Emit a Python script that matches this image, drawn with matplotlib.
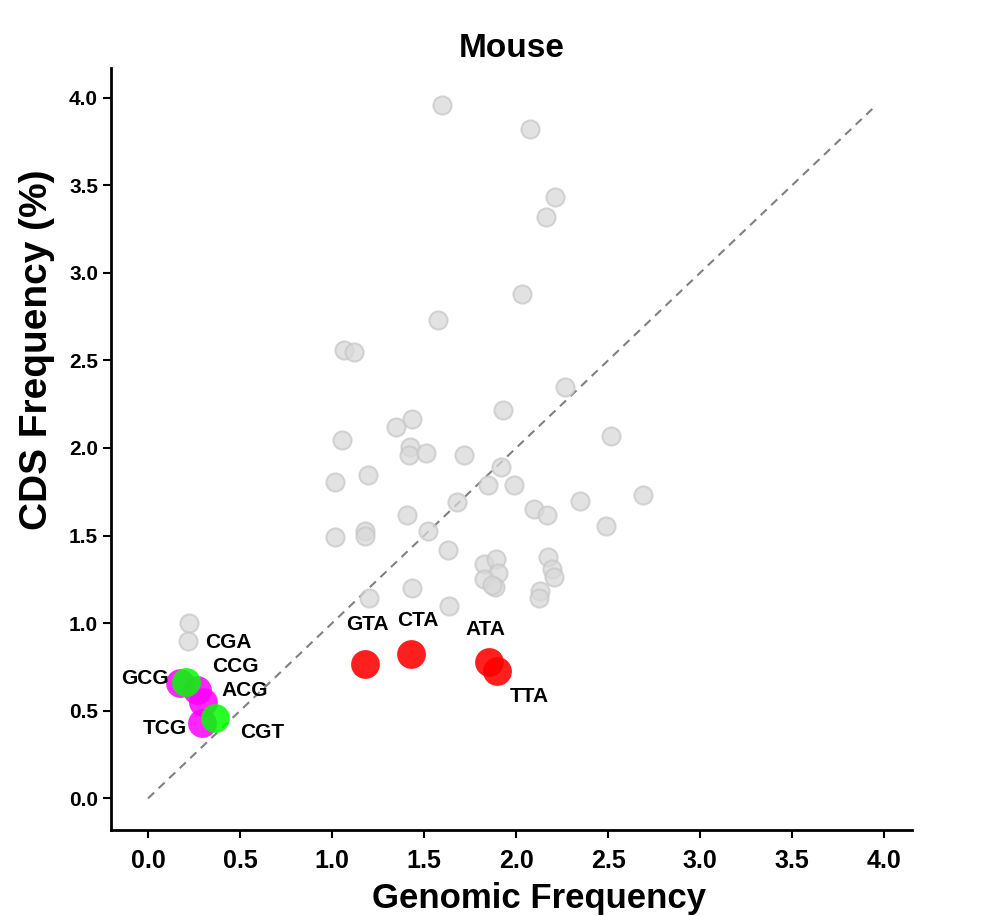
import matplotlib
matplotlib.use("Agg")
import matplotlib.pyplot as plt

# gray points: other codons (genomic %, CDS %)
gray_x = [1.596, 2.074, 2.209, 2.16, 2.03, 1.574, 1.064, 1.118, 2.263, 1.927,
          1.433, 1.346, 1.053, 2.518, 1.422, 1.417, 1.509, 1.715, 1.916, 1.194,
          1.015, 1.845, 1.986, 1.677, 2.687, 2.345, 2.095, 2.166, 1.406, 2.486,
          1.015, 1.178, 1.178, 1.52, 1.628, 1.824, 1.889, 1.90, 1.823, 1.883,
          1.87, 2.171, 2.193, 2.204, 2.128, 2.122, 1.433, 1.2, 1.634, 0.223, 0.217]
gray_y = [3.96, 3.82, 3.435, 3.32, 2.876, 2.73, 2.56, 2.545, 2.35, 2.214,
          2.168, 2.117, 2.048, 2.066, 2.003, 1.957, 1.974, 1.957, 1.889, 1.843,
          1.803, 1.786, 1.786, 1.689, 1.729, 1.695, 1.649, 1.615, 1.615, 1.552,
          1.489, 1.524, 1.495, 1.524, 1.415, 1.335, 1.369, 1.284, 1.25, 1.204,
          1.22, 1.375, 1.307, 1.261, 1.181, 1.141, 1.198, 1.141, 1.10, 0.999, 0.90]

# xCG codons (magenta)
mag_x = [0.174, 0.266, 0.30, 0.293]
mag_y = [0.656, 0.616, 0.548, 0.428]
# CGx codons (green)
grn_x = [0.206, 0.364]
grn_y = [0.662, 0.456]
# xTA codons (red)
red_x = [1.178, 1.427, 1.851, 1.894]
red_y = [0.765, 0.822, 0.776, 0.725]

labels = ["GTA", "CTA", "ATA", "TTA", "CGA", "CCG", "GCG", "ACG", "TCG", "CGT"]
label_x = [1.19, 1.465, 1.835, 2.07, 0.434, 0.472, -0.016, 0.526, 0.092, 0.62]
label_y = [0.99, 1.016, 0.964, 0.58, 0.89, 0.75, 0.685, 0.616, 0.40, 0.377]

ticks = [0.0, 0.5, 1.0, 1.5, 2.0, 2.5, 3.0, 3.5, 4.0]

fam = ["Liberation Sans", "DejaVu Sans"]

fig = plt.figure(figsize=(10.02, 9.16), dpi=100)
ax = fig.add_axes([0.111, 0.094, 0.799, 0.832])

ax.plot([0, 3.95], [0, 3.95], ls=(0, (4, 3)), color="#808080", lw=1.5, zorder=1)

ax.scatter(gray_x, gray_y, s=170, facecolor="#d9d9d9", edgecolor="#c8c8c8",
           linewidth=1.5, alpha=0.75, zorder=2)
ax.scatter(mag_x, mag_y, s=430, color="#ff00ff", alpha=0.85, linewidth=0, zorder=3)
ax.scatter(grn_x, grn_y, s=430, color="#00ff00", alpha=0.85, linewidth=0, zorder=4)
ax.scatter(red_x, red_y, s=430, color="#ff0000", alpha=0.88, linewidth=0, zorder=3)

for t, lx, ly in zip(labels, label_x, label_y):
    ax.text(lx, ly, t, ha="center", va="center", fontsize=15, fontweight="bold",
            family=fam, zorder=5)

ax.set_xlim(-0.2, 4.15)
ax.set_ylim(-0.18, 4.17)
ax.set_xticks(ticks)
ax.set_yticks(ticks)
ax.set_xticklabels(["%.1f" % t for t in ticks], fontsize=18, fontweight="bold", family=fam)
ax.set_yticklabels(["%.1f" % t for t in ticks], fontsize=15, fontweight="bold", family=fam)
ax.tick_params(direction="out", length=6, width=1.5)
ax.tick_params(axis="x", pad=8)

for side in ["top", "right"]:
    ax.spines[side].set_visible(False)
for side in ["left", "bottom"]:
    ax.spines[side].set_linewidth(2)

ax.set_xlabel("Genomic Frequency", fontsize=25, fontweight="bold", family=fam)
ax.xaxis.set_label_coords(0.534, -0.068)
ax.set_ylabel("CDS Frequency (%)", fontsize=28, fontweight="bold", family=fam)
ax.yaxis.set_label_coords(-0.07, 0.63)
ax.set_title("Mouse", fontsize=24, fontweight="bold", family=fam, pad=8)

fig.savefig("out.png", dpi=100)
